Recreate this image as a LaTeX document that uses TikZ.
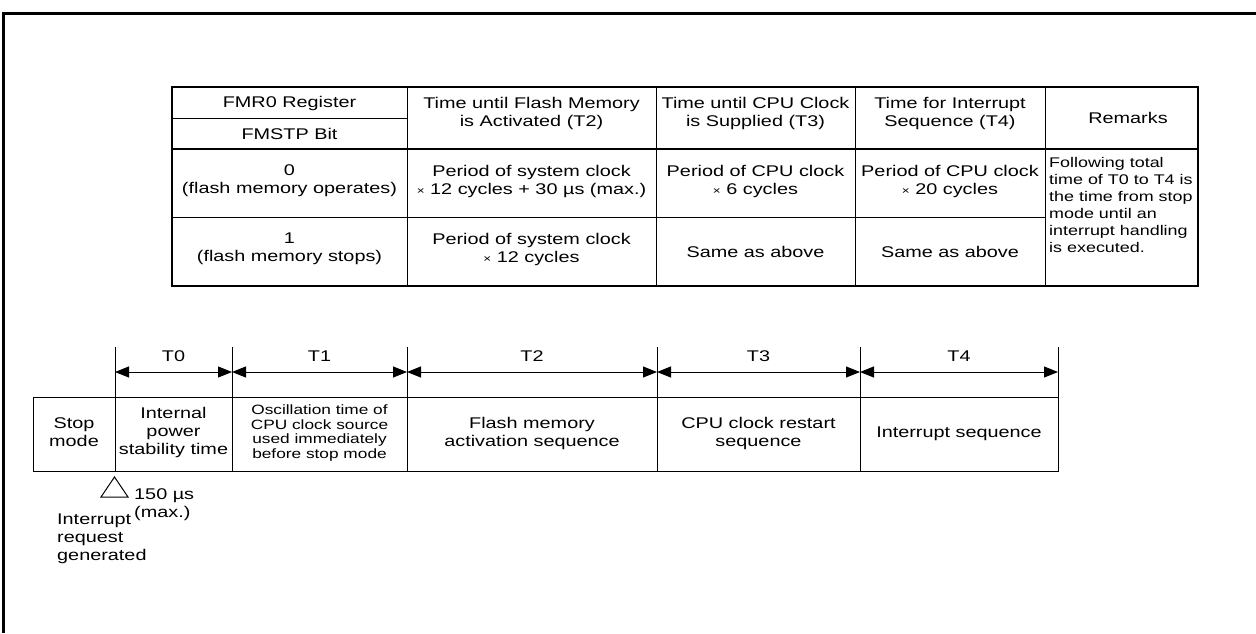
\documentclass[tikz,border=0pt]{standalone}
\usepackage{fontspec}
\setmainfont{Liberation Sans}[FakeStretch=1.28]
\usetikzlibrary{arrows.meta}
\newcommand{\mytimes}{{\fontsize{10.5}{10.5}\selectfont ×}}
\begin{document}
\begin{tikzpicture}[x=1pt,y=-1pt,
  txt/.style={font=\fontsize{15.5}{18}\selectfont, align=center, inner sep=0pt},
  smalltxt/.style={font=\fontsize{13.5}{14.5}\selectfont, align=center, inner sep=0pt},
  remtxt/.style={font=\fontsize{14}{17}\selectfont, align=left, inner sep=0pt},
  outerline/.style={line width=2pt},
  gridline/.style={line width=1pt},
  tl/.style={line width=1pt},
  dim/.style={line width=1pt, {Triangle[length=14pt,width=11pt]}-{Triangle[length=14pt,width=11pt]}},
  framel/.style={line width=3pt}]
\useasboundingbox (0,0) rectangle (1256,633);
% frame
\draw[framel] (3.5,633) -- (3.5,13.5) -- (1256,13.5);
% ---------------- table ----------------
\coordinate (tTL) at (172,87);
\coordinate (tBR) at (1198,286);
\draw[gridline] (172,118) -- (407,118);
\foreach \x in {407,656,855,1045} \draw[gridline] (\x,87) -- (\x,286);
\draw[gridline] (172,217) -- (1045,217);
\draw[outerline] (172,149) -- (1198,149);
\draw[outerline] (tTL) rectangle (tBR);
% header
\node[txt] (h1a) at (289.5,103) {FMR0 Register};
\node[txt] (h1b) at (289.5,134) {FMSTP Bit};
\node[txt] (h2) at (531.5,113) {Time until Flash Memory\\is Activated (T2)};
\node[txt] (h3) at (755.5,113) {Time until CPU Clock\\is Supplied (T3)};
\node[txt] (h4) at (950,113) {Time for Interrupt\\Sequence (T4)};
\node[txt] (h5) at (1128,118) {Remarks};
% row 1
\node[txt] (r1c1) at (289.5,181) {0\\(flash memory operates)};
\node[txt] (r1c2) at (531.5,181) {Period of system clock\\\mytimes\ 12 cycles + 30 µs (max.)};
\node[txt] (r1c3) at (755.5,181) {Period of CPU clock\\\mytimes\ 6 cycles};
\node[txt] (r1c4) at (950,181) {Period of CPU clock\\\mytimes\ 20 cycles};
% row 2
\node[txt] (r2c1) at (289.5,249) {1\\(flash memory stops)};
\node[txt] (r2c2) at (531.5,249) {Period of system clock\\\mytimes\ 12 cycles};
\node[txt] (r2c3) at (755.5,252) {Same as above};
\node[txt] (r2c4) at (950,252) {Same as above};
\node[remtxt, anchor=north west] (rem) at (1049,157) {Following total\\time of T0 to T4 is\\the time from stop\\mode until an\\interrupt handling\\is executed.};
% ---------------- timeline ----------------
\foreach \n/\x in {0/115,1/232,2/407,3/657,4/860,5/1058} {
  \coordinate (t\n) at (\x,347);
  \coordinate (b\n) at (\x,471);
  \coordinate (m\n) at (\x,372);
  \draw[tl] (t\n) -- (b\n);
}
\coordinate (boxTL) at (33,397);
\draw[tl] (boxTL) rectangle (b5);
\draw[dim] (m0) -- (m1);
\draw[dim] (m1) -- (m2);
\draw[dim] (m2) -- (m3);
\draw[dim] (m3) -- (m4);
\draw[dim] (m4) -- (m5);
\node[txt] (lT0) at (173.5,356) {T0};
\node[txt] (lT1) at (319.5,356) {T1};
\node[txt] (lT2) at (532,356) {T2};
\node[txt] (lT3) at (758.5,356) {T3};
\node[txt] (lT4) at (959,356) {T4};
\node[txt] (sStop) at (74,432) {Stop\\mode};
\node[txt] (sT0) at (173.5,432) {Internal\\power\\stability time};
\node[smalltxt] (sT1) at (319.5,433) {Oscillation time of\\CPU clock source\\used immediately\\before stop mode};
\node[txt] (sT2) at (532,433) {Flash memory\\activation sequence};
\node[txt] (sT3) at (758.5,433) {CPU clock restart\\sequence};
\node[txt] (sT4) at (959,434) {Interrupt sequence};
% interrupt marker
\draw[line width=1pt] (114.5,477) -- (101,497) -- (128,497) -- cycle;
\node[txt, align=left, anchor=north west] (max) at (134,488) {150 µs\\(max.)};
\node[txt, align=left, anchor=north west] (irq) at (57,514) {Interrupt\\request\\generated};
\end{tikzpicture}
\end{document}
